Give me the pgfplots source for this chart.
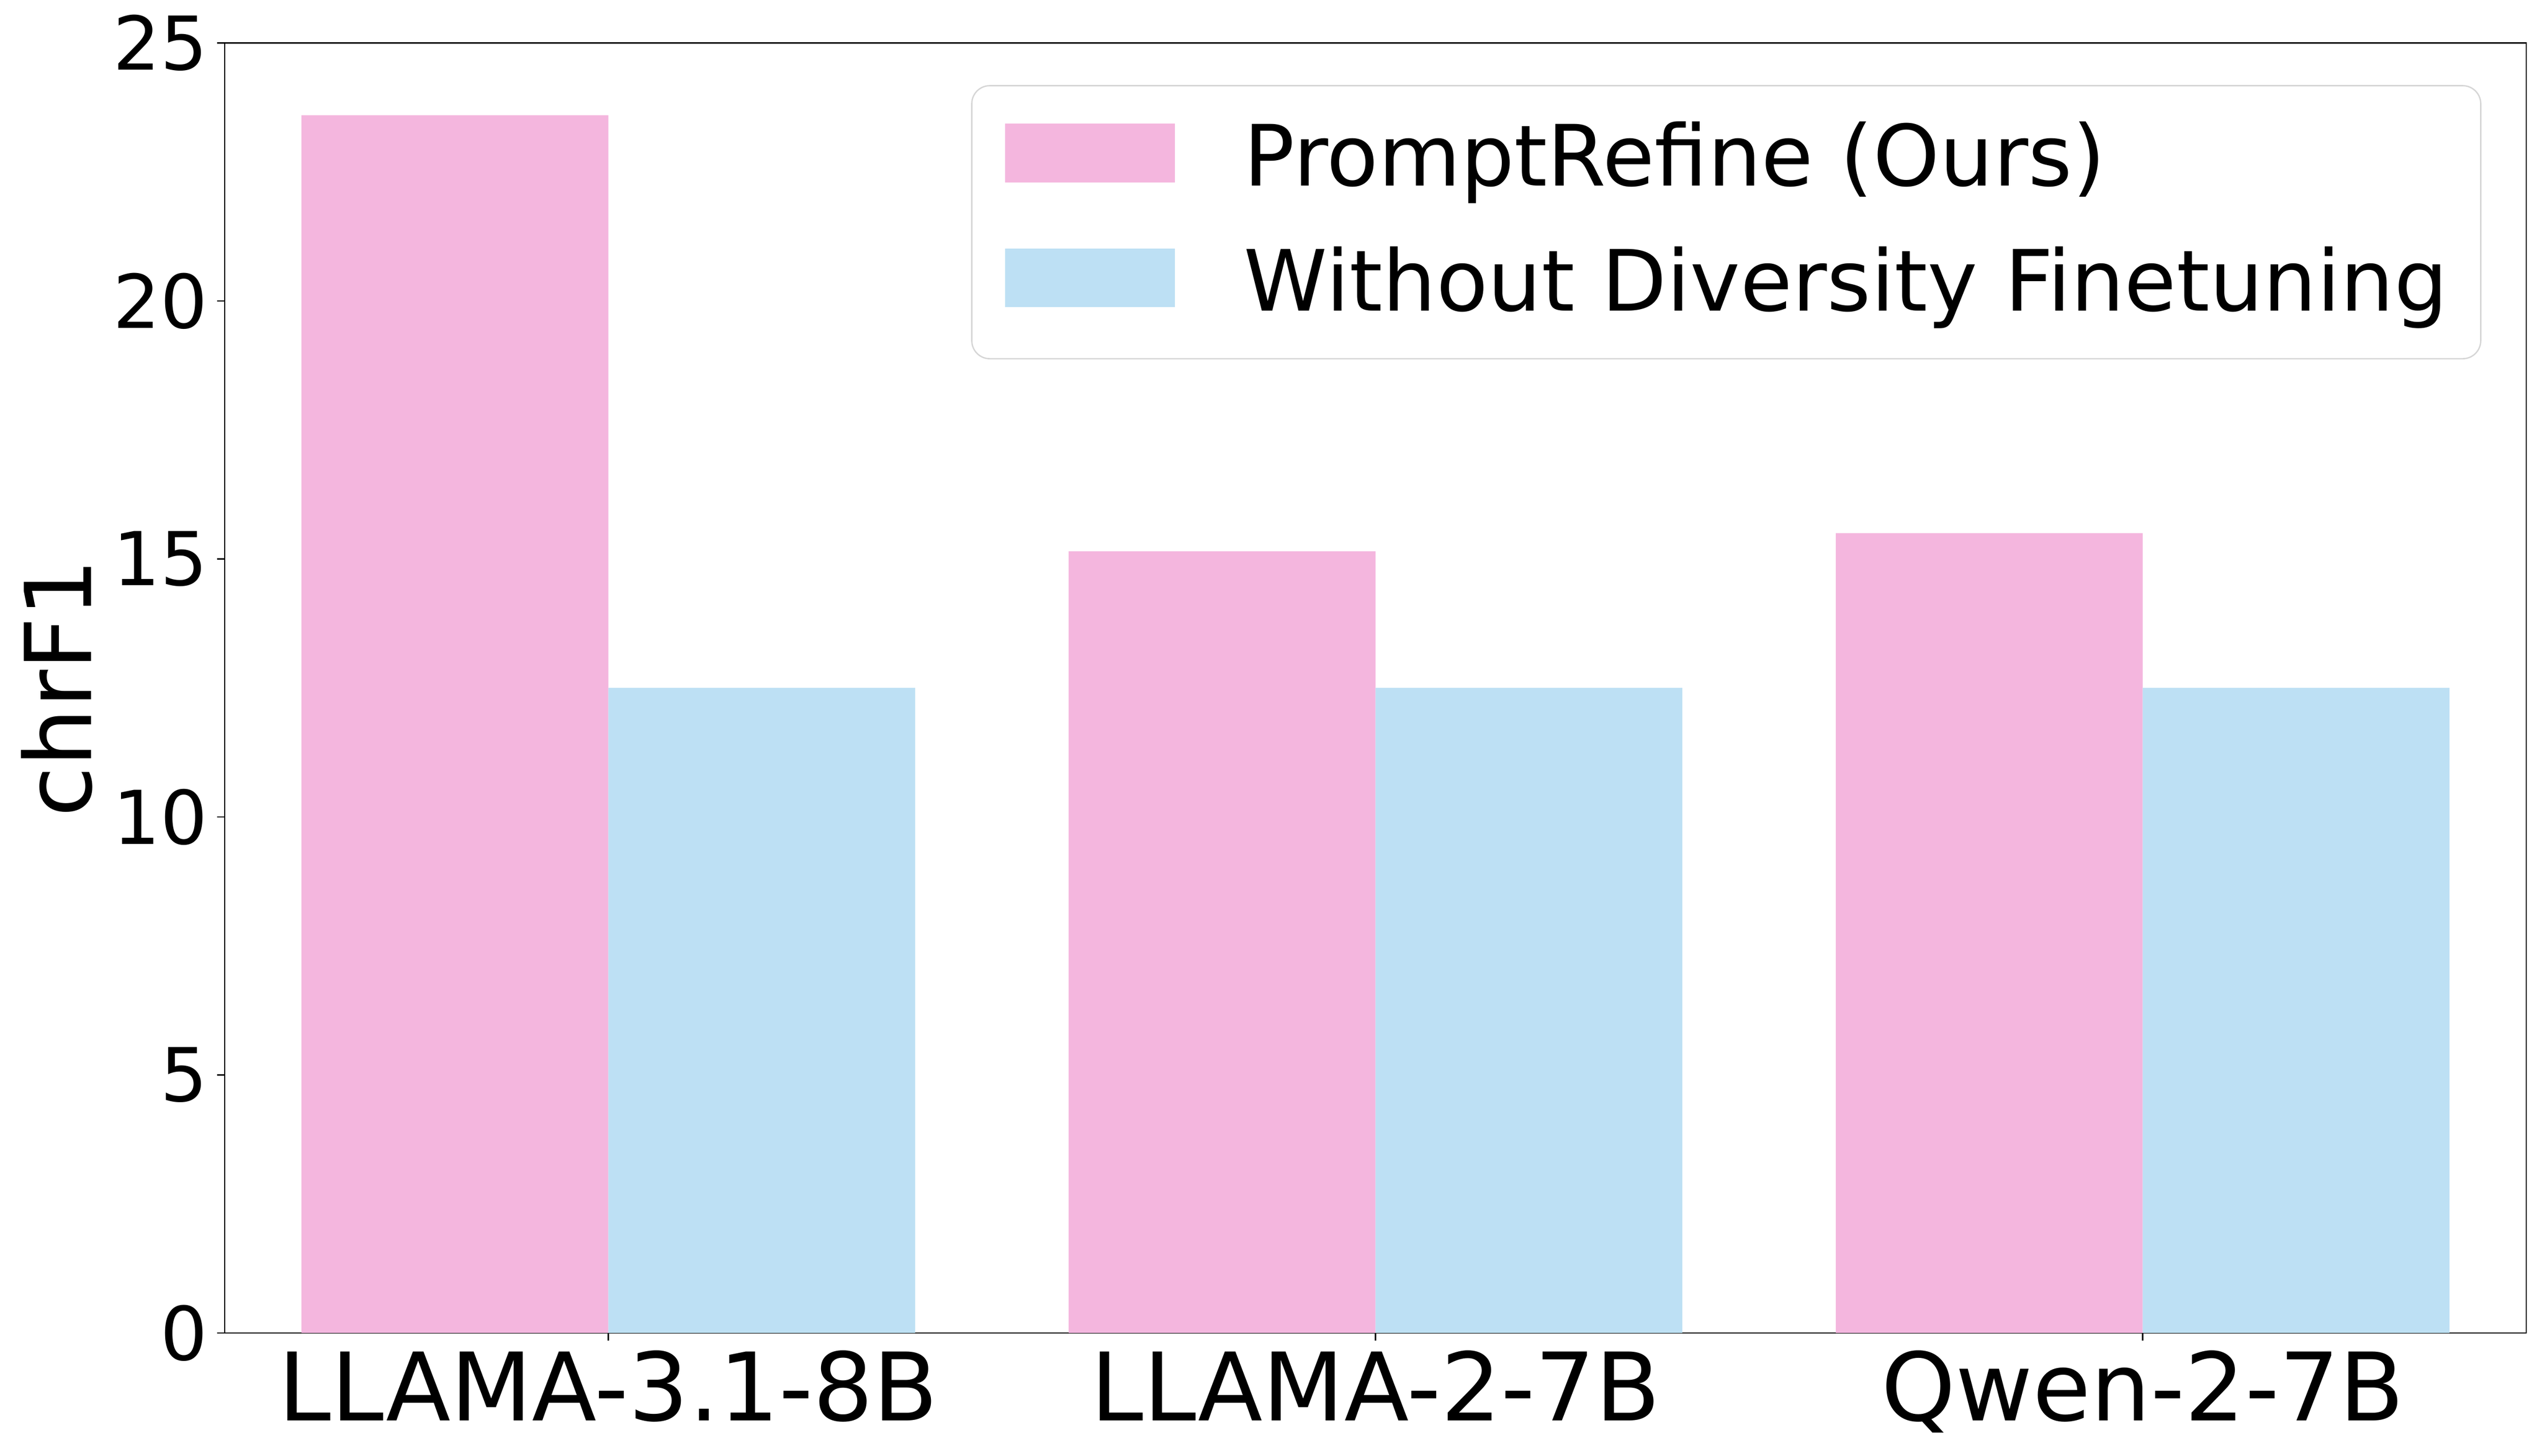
\documentclass[border=0pt]{standalone}
\usepackage{fontspec}
\setmainfont{DejaVu Sans}
\usepackage{pgfplots}
\pgfplotsset{compat=1.18}
\definecolor{barpink}{RGB}{244,182,222}
\definecolor{barblue}{RGB}{189,224,244}
\definecolor{legendedge}{RGB}{214,214,214}

\begin{document}
\begin{tikzpicture}
  \begin{axis}[
    scale only axis,
    width=1023pt,
    height=573.4pt,
    ybar=0pt,
    bar width=0.4,
    xmin=-0.5, xmax=2.5,
    ymin=0, ymax=25,
    xtick=data,
    xticklabels={LLAMA-3.1-8B, LLAMA-2-7B, Qwen-2-7B},
    ytick={0,5,10,15,20,25},
    xtick pos=bottom,
    ytick pos=left,
    tick align=outside,
    major tick length=3.5pt,
    axis line style={line width=0.6pt},
    tick style={line width=0.6pt, black},
    /pgf/number format/assume math mode=true,
    yticklabel style={font=\fontsize{33}{40}\selectfont, inner sep=0pt, xshift=-4pt},
    xticklabel style={font=\fontsize{42}{50}\selectfont, inner sep=0pt, yshift=-4pt},
    ylabel={chrF1},
    every axis y label/.style={at={(axis description cs:-0.073,0.5)}, rotate=90, anchor=center,
      font=\fontsize{41}{49}\selectfont},
    legend cell align=left,
    legend style={at={(0.9805,0.9674)}, anchor=north east,
      draw=legendedge, line width=0.6pt, rounded corners=8pt, fill=white,
      font=\fontsize{37.6}{45}\selectfont,
      inner xsep=14.7pt, inner ysep=15.9pt, row sep=21.5pt,
      /tikz/every odd column/.style={column sep=30.8pt},
      nodes={inner sep=0pt}},
  ]
    % PromptRefine (Ours)
    \addplot[fill=barpink, draw=none,
      legend image code/.code={\fill[barpink, sharp corners] (0pt,-12pt) rectangle (75.5pt,14pt);
        \path (0pt,-19pt);}]
      coordinates {(0,23.6) (1,15.15) (2,15.5)};
    % Without Diversity Finetuning
    \addplot[fill=barblue, draw=none,
      legend image code/.code={\fill[barblue, sharp corners] (0pt,-12pt) rectangle (75.5pt,14pt);
        \path (0pt,-19pt);}]
      coordinates {(0,12.5) (1,12.5) (2,12.5)};
    \legend{PromptRefine (Ours), Without Diversity Finetuning}
  \end{axis}
  \path (current axis.south west) ++(-99.9pt,-54.5pt) (current axis.north east) ++(7pt,19.1pt);
\end{tikzpicture}
\end{document}
